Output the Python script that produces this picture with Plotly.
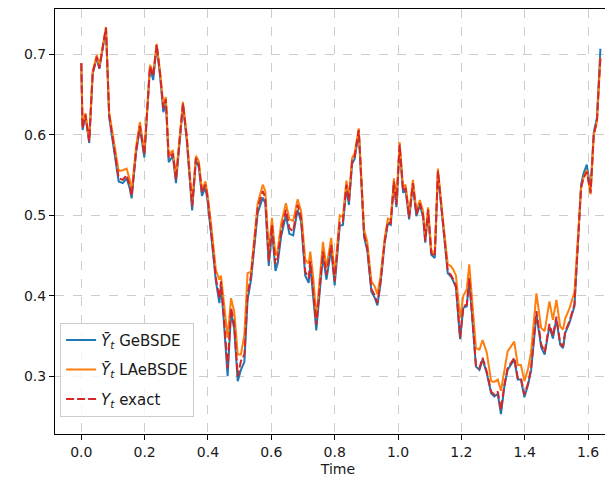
import plotly.graph_objects as go

time = [0.000, 0.004, 0.013, 0.018, 0.025, 0.036, 0.049, 0.057, 0.065, 0.078,
        0.088, 0.104, 0.118, 0.131, 0.143, 0.152, 0.159, 0.173, 0.185, 0.199,
        0.217, 0.227, 0.238, 0.249, 0.259, 0.267, 0.276, 0.289, 0.299, 0.321,
        0.333, 0.350, 0.362, 0.371, 0.381, 0.392, 0.399, 0.410, 0.425, 0.436,
        0.441, 0.448, 0.462, 0.473, 0.483, 0.494, 0.504, 0.515, 0.525, 0.536,
        0.557, 0.573, 0.581, 0.592, 0.602, 0.613, 0.620, 0.631, 0.646, 0.657,
        0.669, 0.683, 0.694, 0.707, 0.718, 0.723, 0.733, 0.742, 0.763, 0.774,
        0.789, 0.800, 0.816, 0.826, 0.837, 0.845, 0.855, 0.863, 0.876, 0.893,
        0.903, 0.916, 0.926, 0.935, 0.945, 0.958, 0.968, 0.977, 0.987, 0.995,
        1.005, 1.016, 1.024, 1.035, 1.047, 1.058, 1.069, 1.079, 1.086, 1.095,
        1.105, 1.116, 1.126, 1.141, 1.157, 1.167, 1.175, 1.183, 1.196, 1.206,
        1.217, 1.225, 1.236, 1.246, 1.257, 1.267, 1.280, 1.294, 1.304, 1.315,
        1.325, 1.336, 1.346, 1.367, 1.378, 1.388, 1.399, 1.411, 1.420, 1.437,
        1.452, 1.463, 1.478, 1.489, 1.500, 1.512, 1.521, 1.528, 1.541, 1.557,
        1.578, 1.585, 1.596, 1.608, 1.618, 1.628, 1.639]

y_exact = [0.689, 0.608, 0.625, 0.612, 0.592, 0.677, 0.697, 0.683, 0.704, 0.733,
           0.625, 0.580, 0.546, 0.544, 0.550, 0.538, 0.524, 0.580, 0.611, 0.575,
           0.685, 0.673, 0.712, 0.675, 0.633, 0.644, 0.571, 0.577, 0.544, 0.639,
           0.596, 0.511, 0.571, 0.563, 0.528, 0.538, 0.521, 0.480, 0.422, 0.397,
           0.418, 0.385, 0.310, 0.385, 0.364, 0.300, 0.319, 0.327, 0.401, 0.426,
           0.509, 0.530, 0.522, 0.443, 0.488, 0.439, 0.447, 0.480, 0.507, 0.484,
           0.480, 0.513, 0.497, 0.430, 0.422, 0.443, 0.406, 0.364, 0.455, 0.426,
           0.463, 0.418, 0.492, 0.492, 0.538, 0.517, 0.567, 0.573, 0.606, 0.476,
           0.459, 0.408, 0.401, 0.391, 0.418, 0.468, 0.492, 0.490, 0.542, 0.513,
           0.588, 0.530, 0.534, 0.497, 0.540, 0.501, 0.515, 0.501, 0.468, 0.507,
           0.453, 0.449, 0.555, 0.492, 0.430, 0.426, 0.420, 0.412, 0.348, 0.387,
           0.389, 0.422, 0.364, 0.314, 0.310, 0.323, 0.306, 0.281, 0.277, 0.281,
           0.258, 0.290, 0.310, 0.323, 0.298, 0.298, 0.277, 0.292, 0.310, 0.381,
           0.340, 0.330, 0.365, 0.350, 0.374, 0.341, 0.337, 0.356, 0.368, 0.389,
           0.534, 0.546, 0.554, 0.528, 0.600, 0.617, 0.697]

y_ge = [0.689, 0.606, 0.624, 0.611, 0.590, 0.676, 0.696, 0.682, 0.703, 0.732,
        0.622, 0.577, 0.542, 0.540, 0.546, 0.535, 0.521, 0.578, 0.609, 0.572,
        0.684, 0.668, 0.711, 0.672, 0.628, 0.641, 0.566, 0.574, 0.540, 0.637,
        0.593, 0.506, 0.569, 0.560, 0.524, 0.535, 0.517, 0.476, 0.418, 0.391,
        0.413, 0.380, 0.300, 0.380, 0.358, 0.294, 0.308, 0.318, 0.395, 0.420,
        0.503, 0.522, 0.515, 0.437, 0.482, 0.431, 0.440, 0.474, 0.500, 0.477,
        0.475, 0.507, 0.492, 0.425, 0.416, 0.438, 0.400, 0.357, 0.450, 0.420,
        0.458, 0.413, 0.487, 0.488, 0.534, 0.513, 0.564, 0.570, 0.604, 0.473,
        0.456, 0.405, 0.398, 0.388, 0.416, 0.466, 0.490, 0.488, 0.540, 0.510,
        0.586, 0.528, 0.531, 0.495, 0.538, 0.499, 0.513, 0.498, 0.466, 0.505,
        0.451, 0.447, 0.553, 0.490, 0.428, 0.424, 0.418, 0.410, 0.346, 0.385,
        0.387, 0.420, 0.362, 0.312, 0.308, 0.321, 0.304, 0.279, 0.275, 0.278,
        0.253, 0.288, 0.308, 0.321, 0.296, 0.296, 0.274, 0.290, 0.307, 0.377,
        0.336, 0.327, 0.362, 0.347, 0.371, 0.339, 0.335, 0.354, 0.366, 0.387,
        0.538, 0.551, 0.563, 0.532, 0.603, 0.621, 0.707]

y_la = [0.689, 0.610, 0.627, 0.614, 0.594, 0.679, 0.699, 0.685, 0.706, 0.734,
        0.628, 0.586, 0.555, 0.556, 0.558, 0.546, 0.530, 0.585, 0.616, 0.579,
        0.687, 0.676, 0.713, 0.678, 0.637, 0.647, 0.575, 0.581, 0.548, 0.641,
        0.600, 0.515, 0.574, 0.567, 0.532, 0.542, 0.525, 0.488, 0.432, 0.420,
        0.425, 0.400, 0.348, 0.397, 0.380, 0.327, 0.327, 0.352, 0.428, 0.430,
        0.515, 0.538, 0.530, 0.455, 0.497, 0.450, 0.456, 0.490, 0.515, 0.495,
        0.493, 0.520, 0.505, 0.445, 0.440, 0.455, 0.420, 0.372, 0.467, 0.435,
        0.472, 0.425, 0.500, 0.498, 0.543, 0.522, 0.571, 0.577, 0.608, 0.482,
        0.467, 0.418, 0.412, 0.402, 0.425, 0.472, 0.496, 0.494, 0.546, 0.518,
        0.591, 0.535, 0.538, 0.502, 0.544, 0.506, 0.519, 0.505, 0.472, 0.510,
        0.457, 0.452, 0.558, 0.498, 0.439, 0.437, 0.432, 0.425, 0.372, 0.400,
        0.408, 0.439, 0.380, 0.335, 0.333, 0.345, 0.330, 0.294, 0.293, 0.296,
        0.282, 0.310, 0.331, 0.343, 0.314, 0.314, 0.294, 0.310, 0.330, 0.403,
        0.360, 0.356, 0.393, 0.370, 0.395, 0.362, 0.358, 0.372, 0.384, 0.405,
        0.534, 0.546, 0.556, 0.526, 0.600, 0.616, 0.696]

x_ticks = [0.0, 0.2, 0.4, 0.6, 0.8, 1.0, 1.2, 1.4, 1.6]
y_ticks = [0.3, 0.4, 0.5, 0.6, 0.7]

names = ["<i>Y\u0304</i><sub><i>t</i></sub> GeBSDE",
         "<i>Y\u0304</i><sub><i>t</i></sub> LAeBSDE",
         "<i>Y</i><sub><i>t</i></sub> exact"]

fig = go.Figure()
fig.add_trace(go.Scatter(x=time, y=y_ge, mode="lines", name=names[0], legendgroup="a",
                         line=dict(color="#1f77b4", width=2)))
fig.add_trace(go.Scatter(x=time, y=y_la, mode="lines", name=names[1], legendgroup="b",
                         line=dict(color="#ff7f0e", width=2)))
fig.add_trace(go.Scatter(x=time, y=y_exact, mode="lines", name=names[2], legendgroup="c",
                         line=dict(color="#d62728", width=2, dash="8px,3px")))

axis_common = dict(
    showgrid=True, gridcolor="#cdcdcd", griddash="dash", gridwidth=1,
    zeroline=False, showline=True, linecolor="black", linewidth=1,
    ticks="outside", ticklen=5, tickcolor="black", tickwidth=1,
    tickfont=dict(family="DejaVu Sans", size=14, color="#1a1a1a"),
    tickformat=".1f",
)

fig.update_layout(
    width=613, height=480,
    margin=dict(l=47, r=0, t=1, b=54),
    paper_bgcolor="white", plot_bgcolor="white",
    font=dict(family="DejaVu Sans", size=14, color="#1a1a1a"),
    xaxis=dict(range=[-0.083, 1.704], tickvals=x_ticks, mirror=True,
               title=dict(text="Time", standoff=5, font=dict(size=14)), **axis_common),
    yaxis=dict(range=[0.2283, 0.7563], tickvals=y_ticks, **axis_common),
    legend=dict(x=0.009, y=0.262, xanchor="left", yanchor="top",
                bgcolor="rgba(255,255,255,0.8)", bordercolor="#cccccc", borderwidth=1,
                font=dict(family="DejaVu Sans", size=15), tracegroupgap=7,
                itemwidth=30),
    showlegend=True,
)

fig.write_html("out.html")
